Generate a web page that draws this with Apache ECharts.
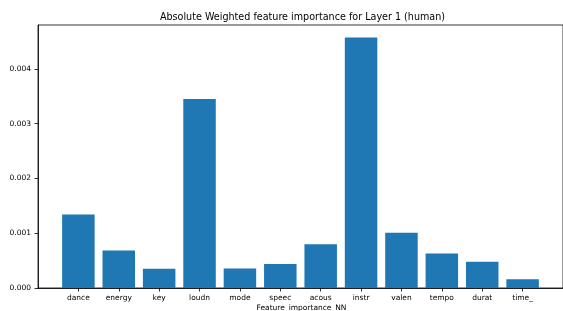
<!DOCTYPE html>
<html>
<head>
<meta charset="utf-8">
<script src="https://cdn.jsdelivr.net/npm/echarts@6/dist/echarts.min.js"></script>
<style>
  html, body { margin: 0; padding: 0; background: #fff; }
  #main { width: 563px; height: 311px; }
</style>
</head>
<body>
<div id="main"></div>
<script>
const features = ['dance', 'energy', 'key', 'loudn', 'mode', 'speec', 'acous', 'instr', 'valen', 'tempo', 'durat', 'time_'];
const importance = [0.00134, 0.000685, 0.00035, 0.00345, 0.000358, 0.00044, 0.000797, 0.00457, 0.00101, 0.00063, 0.00048, 0.00016];
const yTicks = [0, 0.001, 0.002, 0.003, 0.004];

const myChart = echarts.init(document.getElementById('main'));
const font = 'DejaVu Sans';

myChart.setOption({
  animation: false,
  title: [{
    text: 'Absolute Weighted feature importance for Layer 1 (human)',
    left: 302.5,
    top: 12.5,
    padding: 0,
    textAlign: 'center',
    textStyle: { fontFamily: font, fontSize: 9.6, fontWeight: 'normal', color: '#000' }
  }, {
    text: 'Feature_importance_NN',
    left: 301.5,
    top: 304.5,
    padding: 0,
    textAlign: 'center',
    textStyle: { fontFamily: font, fontSize: 7.5, fontWeight: 'normal', color: '#000' }
  }],
  grid: {
    left: 38, right: -2, top: 25, bottom: 23,
    show: true, borderColor: '#000', borderWidth: 0.8
  },
  xAxis: {
    type: 'value',
    min: -1, max: 12, interval: 1,
    splitLine: { show: false },
    axisLine: { show: true, onZero: false, lineStyle: { color: '#000', width: 0.8 } },
    axisTick: {
      show: true, length: 3.5, lineStyle: { color: '#000', width: 0.8 },
      customValues: features.map((f, i) => i)
    },
    axisLabel: {
      fontFamily: font, fontSize: 7.5, color: '#000', margin: 6,
      customValues: features.map((f, i) => i),
      formatter: v => features[v] || ''
    }
  },
  yAxis: {
    type: 'value',
    min: 0, max: 0.0048,
    splitLine: { show: false },
    axisLine: { show: true, onZero: false, lineStyle: { color: '#000', width: 0.8 } },
    axisTick: { show: true, length: 3.5, lineStyle: { color: '#000', width: 0.8 }, customValues: yTicks },
    axisLabel: {
      fontFamily: font, fontSize: 7.5, color: '#000', margin: 7,
      customValues: yTicks,
      formatter: v => v.toFixed(3)
    }
  },
  series: [{
    type: 'bar',
    barWidth: 32.5,
    itemStyle: { color: '#1f77b4' },
    data: importance.map((v, i) => [i, v])
  }]
});
</script>
</body>
</html>
